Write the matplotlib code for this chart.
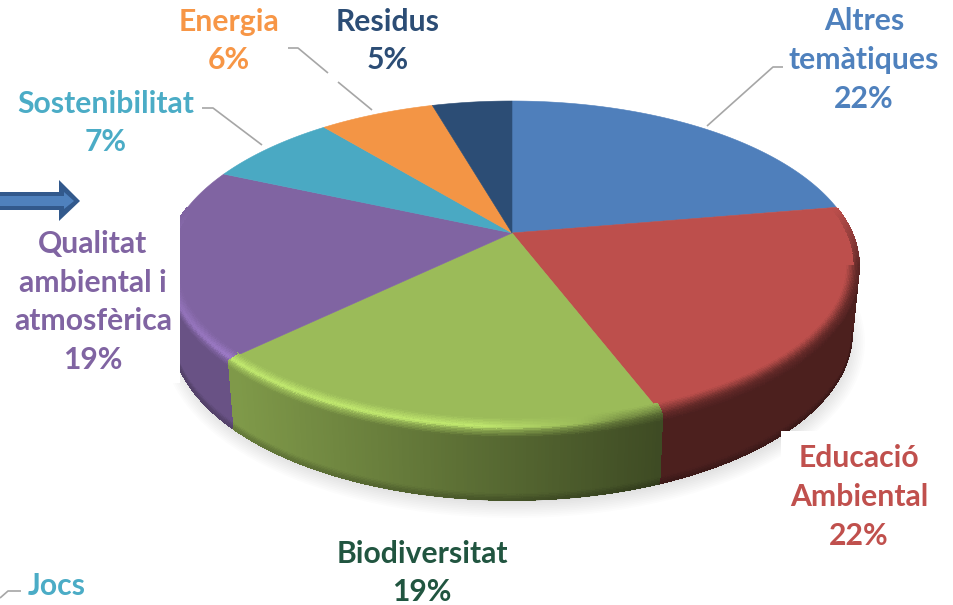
import numpy as np
import matplotlib
matplotlib.use("Agg")
import matplotlib.pyplot as plt
from matplotlib.collections import LineCollection, PolyCollection
from matplotlib.colors import to_rgb
from matplotlib.patches import Ellipse, Polygon, Rectangle

# data, clockwise from the top of the pie
categories = ["Altres\ntemàtiques", "Educació\nAmbiental", "Biodiversitat",
              "Qualitat\nambiental i\natmosfèrica", "Sostenibilitat", "Energia", "Residus"]
# shares as measured on the drawn slices, and the percentages printed on the labels
shares = [22.3, 21.8, 18.7, 18.7, 7.4, 6.5, 4.5]
printed = [22, 22, 19, 19, 7, 6, 5]
slice_colors = ["#4f7fbb", "#bd4f4c", "#9bbb59", "#8064a2", "#4aa9c3", "#f39545", "#2c4d75"]
label_colors = ["#4f81bd", "#c0504d", "#215540", "#8064a2", "#4bacc6", "#f79646", "#2c4d75"]
label_x = [864, 859, 422, 93, 106, 229, 388]
label_y = [60, 497, 573, 302, 123, 41, 41]

# ==============================
# Perspective of the pie
# ==============================
CX, CY, RX, RY = 512, 266, 347, 165        # top face
BX, BY, BRY = 340, 333, 167                # bottom rim
A = 0.2                                    # apex shift towards the back
FONT = "Lato"
FSIZE = 21.7


def project(frac):
    t = 2 * np.pi * np.asarray(frac)
    u, v = np.sin(t), np.cos(t)
    den = 1 + A * v
    return u * np.sqrt(1 - A ** 2) / den, (v + A) / den


def rim_point(X, Y, q):
    # q < 0: inside top face, q > 0: down the side wall
    if q <= 0:
        return CX + (RX + q) * X, CY - (RY + q) * Y
    s = q / 68
    x0, y0 = CX + RX * X, CY - RY * Y
    x1, y1 = CX + BX * X, BY - BRY * Y
    return x0 + (x1 - x0) * s, y0 + (y1 - y0) * s


def side_color(base, x):
    return np.array(base) * np.interp(x, [235, 660], [0.82, 0.40])


def shade(base, x, Y, q):
    base = np.array(base)
    side = side_color(base, x)
    h = np.interp(x, [180, 235, 480, 620, 700], [0.6, 1, 1, -0.4, -0.7])
    mid = base * (1 + 0.25 * h) if h >= 0 else base + (side - base) * (-h)
    mid = np.clip(mid, 0, 1)
    rim = mid + (side - mid) * 0.5
    stops = [-12, -3, 0, 7, 62, 68]
    cols = [base, mid, rim, side, side, side * 0.8]
    c = np.array([np.interp(q, stops, [k[i] for k in cols]) for i in range(3)])
    if Y > 0:
        # back half has no lit edge, only a faint dark one
        w = max(0, 1 - Y / 0.35) if q > -5 else 0
        c = base + (c - base) * w
    return np.clip(c, 0, 1)


fig = plt.figure(figsize=(9.54, 6.05), dpi=100)
ax = fig.add_axes([0, 0, 1, 1])
ax.set_xlim(0, 954)
ax.set_ylim(605, 0)
ax.axis("off")

# soft ground shadow
for i in range(10):
    ax.add_patch(Ellipse((514, 342), 2 * (351 - i * 1.8), 2 * (176 - i * 1.8),
                         fc="#000000", ec="none", alpha=0.011, zorder=1))

# ==============================
# Slices
# ==============================
starts = np.cumsum([0] + shares[:-1]) / sum(shares)
ends = np.cumsum(shares) / sum(shares)
levels = list(np.arange(-12, 12, 1.5)) + [12, 62, 63.5, 65, 66.5, 68]

polys, cols = [], []
edge_segs, edge_cols = [], []
for s0, s1, color in zip(starts, ends, slice_colors):
    base = to_rgb(color)
    f = np.linspace(s0, s1, max(int((s1 - s0) * 720), 8))
    X, Y = project(f)
    ax.add_patch(Polygon(np.column_stack([np.r_[CX + RX * X, 512], np.r_[CY - RY * Y, 233]]),
                         fc=base, ec=base, lw=0.4, zorder=4))
    for j in range(len(f) - 1):
        ym = (Y[j] + Y[j + 1]) / 2
        if ym > 0.35:
            continue
        for q0, q1 in zip(levels[:-1], levels[1:]):
            if q1 > 0 and ym > 0.02:
                continue
            a = rim_point(X[j], Y[j], q0)
            b = rim_point(X[j + 1], Y[j + 1], q0)
            c = rim_point(X[j + 1], Y[j + 1], q1)
            d = rim_point(X[j], Y[j], q1)
            polys.append([a, b, c, d])
            xm = (a[0] + b[0]) / 2
            cols.append(shade(base, xm, ym, (q0 + q1) / 2))
        # smooth outline over the hard edged quads
        q_out = 68 if ym <= 0.02 else 0
        p0 = rim_point(X[j], Y[j], q_out)
        p1 = rim_point(X[j + 1], Y[j + 1], q_out)
        edge_segs.append([p0, p1])
        edge_cols.append(shade(base, (p0[0] + p1[0]) / 2, ym, q_out))
        # first strip of the wall on the right: silhouette from top rim to bottom rim
        if ym <= 0.02 and Y[j] > 0.02:
            top = rim_point(X[j], Y[j], 0)
            bot = rim_point(X[j], Y[j], 68)
            edge_segs.append([top, bot])
            edge_cols.append(side_color(base, 850))

ax.add_collection(PolyCollection(polys, facecolors=cols, edgecolors=cols, linewidths=0.6,
                                 antialiaseds=False, zorder=5))
ax.add_collection(LineCollection(edge_segs, colors=edge_cols, linewidths=1.0, zorder=5.5))

# white boxes of the labels that cut the pie
ax.add_patch(Rectangle((0, 165), 180, 218, fc="white", ec="none", zorder=6))
ax.add_patch(Rectangle((781, 431), 173, 174, fc="white", ec="none", zorder=6))

# ==============================
# Leader lines
# ==============================
leaders = [
    ([707, 773, 783], [126, 67, 67]),
    ([262, 213, 202], [145, 108, 108]),
    ([372, 338], [110, 82]),
    ([328, 298, 288], [73, 48, 48]),
    ([0, 8, 21], [598, 591, 591]),
]
for lx, ly in leaders:
    ax.plot(lx, ly, color="#a6a6a6", lw=1.2, zorder=7, solid_capstyle="butt")

# arrow on the left
ax.add_patch(Polygon([(0, 192), (59, 192), (59, 180), (80, 201), (59, 221), (59, 210), (0, 210)],
                     fc="#32598c", ec="none", zorder=7))
ax.add_patch(Polygon([(0, 196), (64, 196), (64, 192), (74, 201), (64, 209), (64, 206), (0, 206)],
                     fc="#4f81bd", ec="none", zorder=8))

# ==============================
# Labels
# ==============================
for name, val, color, x, y in zip(categories, printed, label_colors, label_x, label_y):
    ax.text(x, y, f"{name}\n{val}%", color=color, ha="center", va="center", ma="center",
            fontsize=FSIZE, fontweight="bold", family=FONT, linespacing=1.47, zorder=9)
ax.text(28, 586, "Jocs", color="#4bacc6", ha="left", va="center",
        fontsize=FSIZE, fontweight="bold", family=FONT, zorder=9)

fig.savefig("out.png", dpi=100)
